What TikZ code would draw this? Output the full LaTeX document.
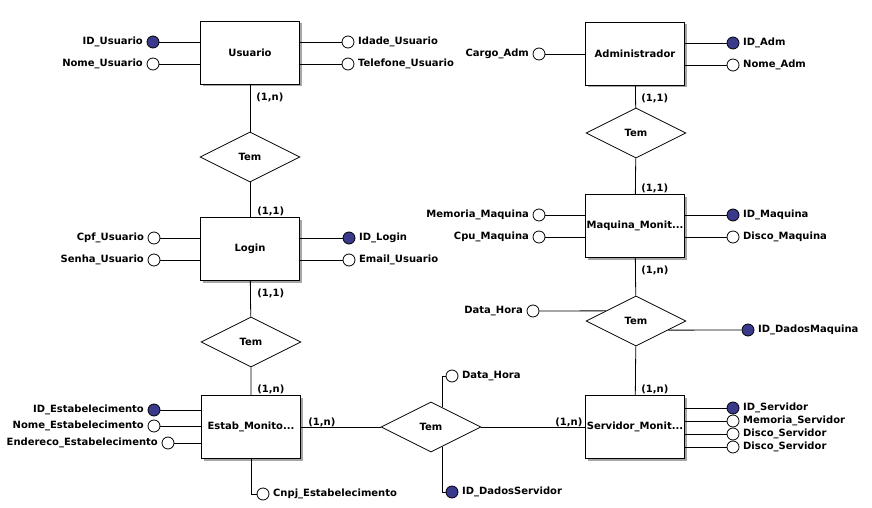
\documentclass[tikz,border=0pt]{standalone}
\usepackage{fontspec}
\setmainfont{DejaVu Sans}
\usetikzlibrary{calc,shapes.geometric,shadows}
\definecolor{keyblue}{RGB}{58,58,140}

\begin{document}
\begin{tikzpicture}[x=1pt,y=-1pt,line width=0.8pt,font=\fontsize{10}{12}\selectfont\bfseries]
    \tikzstyle{entity}=[draw,line width=1.1pt,fill=white,minimum width=99,minimum height=63,
        inner sep=0,drop shadow={shadow xshift=2pt,shadow yshift=-2pt,fill=gray!70,opacity=1}]
    \tikzstyle{rel}=[draw,diamond,aspect=2,minimum width=100,minimum height=50,inner sep=0,fill=white]
    \tikzstyle{attr}=[draw,circle,minimum size=12,inner sep=0,fill=white]
    \tikzstyle{key}=[attr,fill=keyblue]
    \tikzstyle{card}=[inner sep=0]
    \useasboundingbox (0,0) rectangle (872,508);
    % Entities
    \node[entity] (usuario) at (250,53) {Usuario};
    \node[entity] (login) at (250,249) {Login};
    \node[entity] (estab) at (251,427) {Estab\_Monito...};
    \node[entity] (adm) at (635,54) {Administrador};
    \node[entity] (maquina) at (635,226) {Maquina\_Monit...};
    \node[entity] (servidor) at (635,427) {Servidor\_Monit...};
    % Relationships
    \node[rel] (tem1) at (250,157) {Tem};
    \node[rel] (tem2) at (251,342) {Tem};
    \node[rel] (tem3) at (636,133) {Tem};
    \node[rel] (tem4) at (636,321) {Tem};
    \node[rel] (tem5) at (431,427) {Tem};
    % Entity-Relationship lines
    \draw (usuario) -- (tem1) -- (login);
    \draw (login) -- (tem2) -- (estab);
    \draw (adm) -- (tem3) -- (maquina);
    \draw (maquina) -- (tem4) -- (servidor);
    \draw (estab) -- (tem5) -- (servidor);
    % Cardinalities
    \node[card,anchor=west] (c1) at (256,97) {(1,n)};
    \node[card,anchor=west] (c2) at (257,211) {(1,1)};
    \node[card,anchor=west] (c3) at (257,293) {(1,1)};
    \node[card,anchor=west] (c4) at (257,389) {(1,n)};
    \node[card,anchor=west] (c5) at (641,98) {(1,1)};
    \node[card,anchor=west] (c6) at (641,188) {(1,1)};
    \node[card,anchor=west] (c7) at (641,270) {(1,n)};
    \node[card,anchor=west] (c8) at (641,389) {(1,n)};
    \node[card,anchor=west] (c9) at (308,422) {(1,n)};
    \node[card,anchor=west] (c10) at (555,422) {(1,n)};
    % Attributes - Usuario
    \node[key,label=left:ID\_Usuario] (idusu) at (153,42) {};
    \node[attr,label=left:Nome\_Usuario] (nomeusu) at (153,64) {};
    \node[attr,label=right:Idade\_Usuario] (idade) at (348,42) {};
    \node[attr,label=right:Telefone\_Usuario] (fone) at (348,64) {};
    \draw (idusu) -- (idusu -| usuario.west);
    \draw (nomeusu) -- (nomeusu -| usuario.west);
    \draw (idade) -- (idade -| usuario.east);
    \draw (fone) -- (fone -| usuario.east);
    % Attributes - Login
    \node[attr,label=left:Cpf\_Usuario] (cpf) at (154,238) {};
    \node[attr,label=left:Senha\_Usuario] (senha) at (154,260) {};
    \node[key,label=right:ID\_Login] (idlogin) at (349,238) {};
    \node[attr,label=right:Email\_Usuario] (email) at (349,260) {};
    \draw (cpf) -- (cpf -| login.west);
    \draw (senha) -- (senha -| login.west);
    \draw (idlogin) -- (idlogin -| login.east);
    \draw (email) -- (email -| login.east);
    % Attributes - Estab_Monitorado
    \node[key,label=left:ID\_Estabelecimento] (idest) at (154,410) {};
    \node[attr,label=left:Nome\_Estabelecimento] (nomeest) at (154,426) {};
    \node[attr,label=left:Endereco\_Estabelecimento] (endest) at (168,443) {};
    \node[attr,label=right:Cnpj\_Estabelecimento] (cnpj) at (263,494) {};
    \draw (idest) -- (idest -| estab.west);
    \draw (nomeest) -- (nomeest -| estab.west);
    \draw (endest) -- (endest -| estab.west);
    \draw (estab.south) |- (cnpj);
    % Attributes - Administrador
    \node[attr,label=left:Cargo\_Adm] (cargo) at (539,54) {};
    \node[key,label=right:ID\_Adm] (idadm) at (733,43) {};
    \node[attr,label=right:Nome\_Adm] (nomeadm) at (733,65) {};
    \draw (cargo) -- (cargo -| adm.west);
    \draw (idadm) -- (idadm -| adm.east);
    \draw (nomeadm) -- (nomeadm -| adm.east);
    % Attributes - Maquina_Monitorada
    \node[attr,label=left:Memoria\_Maquina] (memmaq) at (539,215) {};
    \node[attr,label=left:Cpu\_Maquina] (cpu) at (539,237) {};
    \node[key,label=right:ID\_Maquina] (idmaq) at (733,215) {};
    \node[attr,label=right:Disco\_Maquina] (discomaq) at (733,237) {};
    \draw (memmaq) -- (memmaq -| maquina.west);
    \draw (cpu) -- (cpu -| maquina.west);
    \draw (idmaq) -- (idmaq -| maquina.east);
    \draw (discomaq) -- (discomaq -| maquina.east);
    % Attributes - Servidor_Monitorado
    \node[key,label=right:ID\_Servidor] (idserv) at (733,408) {};
    \node[attr,label=right:Memoria\_Servidor] (memserv) at (733,421) {};
    \node[attr,label=right:Disco\_Servidor] (disco1) at (733,434) {};
    \node[attr,label=right:Disco\_Servidor] (disco2) at (733,447) {};
    \draw (idserv) -- (idserv -| servidor.east);
    \draw (memserv) -- (memserv -| servidor.east);
    \draw (disco1) -- (disco1 -| servidor.east);
    \draw (disco2) -- (disco2 -| servidor.east);
    % Attributes - relationships
    \node[attr,label=left:Data\_Hora] (datamaq) at (533,311) {};
    \node[key,label=right:ID\_DadosMaquina] (iddmaq) at (748,330) {};
    \draw (datamaq) -- ($(tem4.west)!0.4!(tem4.north)$);
    \draw (iddmaq) -- ($(tem4.east)!0.36!(tem4.south)$);
    \node[attr,label=right:Data\_Hora] (dataserv) at (452,376) {};
    \node[key,label=right:ID\_DadosServidor] (iddserv) at (452,492) {};
    \draw ($(tem5.north)!0.22!(tem5.east)$) |- (dataserv);
    \draw ($(tem5.south)!0.22!(tem5.east)$) |- (iddserv);
  \end{tikzpicture}
\end{document}
